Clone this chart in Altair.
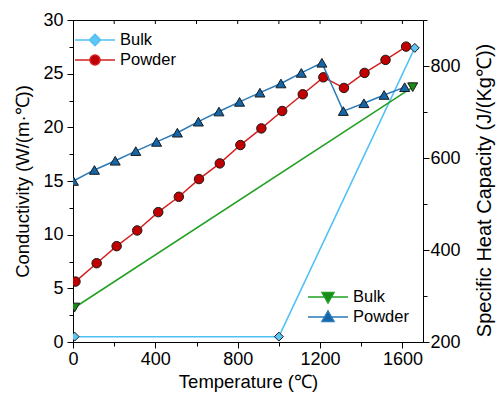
import altair as alt
import pandas as pd

# ---------------- data ----------------
series = ["Bulk", "Powder"]

# thermal conductivity (left axis)
bulk_k_temp = [8, 1000, 1660]
bulk_k = [0.5, 0.5, 27.4]
powder_k_temp = [12, 115, 212, 312, 414, 514, 612, 713, 813, 915, 1016, 1116, 1216, 1316, 1416, 1518, 1618]
powder_k = [5.63, 7.34, 8.93, 10.39, 12.1, 13.53, 15.18, 16.64, 18.35, 19.9, 21.52, 23.08, 24.66, 23.67, 25.07, 26.28, 27.52]

# specific heat capacity (right axis)
bulk_c_temp = [8, 1650]
bulk_c = [275, 754]
powder_c_temp = [2, 104, 205, 305, 406, 507, 609, 709, 809, 908, 1010, 1109, 1209, 1313, 1413, 1511, 1611]
powder_c = [550, 574, 594, 615, 635, 655, 679, 701, 722, 742, 762, 785, 807, 702, 719, 737, 754]

k_ticks = [0, 2.5, 5, 7.5, 10, 12.5, 15, 17.5, 20, 22.5, 25, 27.5, 30]
c_ticks = [200, 300, 400, 500, 600, 700, 800, 900]
t_ticks = [0, 200, 400, 600, 800, 1000, 1200, 1400, 1600]
top_ticks = [200, 400, 600, 800, 1000, 1200, 1400, 1600]

# ---------------- styles ----------------
FONT = "Liberation Sans"
LB_LINE, LB_FILL = "#4fc1f5", "#5cc6f7"
RED_LINE, RED_FILL = "#d42020", "#c00000"
BLUE_LINE, BLUE_FILL = "#2a7ab8", "#1466a8"
GREEN_LINE, GREEN_FILL = "#22a022", "#1a8a1a"
EDGE = "#1a1a1a"


def df(t, v):
    return pd.DataFrame({"temp": t, "value": v})


tick_df = pd.DataFrame({"temp": top_ticks})
legend_df = pd.DataFrame({"series": series})

x_axis = alt.Axis(
    title="Temperature (℃)", values=t_ticks, format="d", labelFlush=False,
    labelExpr="datum.value % 400 === 0 ? datum.label : ''",
    tickSize={"condition": {"test": "datum.value % 400 === 0", "value": 6}, "value": 4},
    labelFontSize=18, titleFontSize=18.5, labelPadding=2, titlePadding=4,
)
x_enc = alt.X("temp:Q", scale=alt.Scale(domain=[0, 1700], nice=False, zero=False), axis=x_axis)

yl_axis = alt.Axis(
    title="Conductivity  (W/(m·℃))", orient="left", values=k_ticks, labelFlush=False,
    labelExpr="datum.value % 5 === 0 ? datum.label : ''",
    tickSize={"condition": {"test": "datum.value % 5 === 0", "value": 6}, "value": 4},
    labelFontSize=18, titleFontSize=18.5, labelPadding=4, titlePadding=10,
)
yr_axis = alt.Axis(
    title="Specific Heat Capacity (J/(Kg℃))", orient="right", values=c_ticks, labelFlush=False,
    labelExpr="datum.value % 200 === 0 ? datum.label : ''",
    tickSize={"condition": {"test": "datum.value % 200 === 0", "value": 6}, "value": 4},
    labelFontSize=18, titleFontSize=20, labelPadding=1, titlePadding=34, titleAngle=270,
    titleY=170, titleAlign="center",
)

# legend glyphs: a line segment with the marker in its middle (unit = half of sqrt(symbolSize))
PATHS = {
    "diamond": "M-2,0H-0.56M0.56,0H2M0,-0.56L0.56,0L0,0.56L-0.56,0Z",
    "circle": "M-2,0H-0.5M0.5,0H2M0.5,0A0.5,0.5,0,1,1,-0.5,0A0.5,0.5,0,1,1,0.5,0Z",
    "down": "M-2,0H-0.34M0.34,0H2M-0.6,-0.44L0.6,-0.44L0,0.6Z",
    "up": "M-2,0H-0.34M0.34,0H2M-0.6,0.44L0.6,0.44L0,-0.6Z",
}

ya = alt.Y("value:Q", scale=alt.Scale(domain=[0, 30], nice=False), axis=yl_axis)
yb = alt.Y("value:Q", scale=alt.Scale(domain=[200, 900], nice=False, zero=False), axis=yr_axis)


def line(d, y, color):
    return alt.Chart(d).mark_line(strokeWidth=1.5, color=color).encode(x=x_enc, y=y)


def pts(d, y, shape, fill, size):
    return alt.Chart(d).mark_point(
        shape=shape, filled=True, fill=fill, stroke=EDGE, strokeWidth=1, opacity=1, size=size, clip=True
    ).encode(x=x_enc, y=y)


def legend_layer(x, y, shapes, fills, strokes):
    leg = alt.Legend(
        title=None, orient="none", legendX=x, legendY=y, padding=0,
        symbolSize=400, symbolStrokeWidth=1.5, symbolOpacity=1,
        labelFont=FONT, labelFontSize=16.5, labelColor="black", labelOffset=14, rowPadding=0,
    )
    return alt.Chart(legend_df).mark_point(filled=True, opacity=1, strokeWidth=1.5).encode(
        shape=alt.Shape("series:N", scale=alt.Scale(domain=series, range=shapes), legend=leg),
        fill=alt.Fill("series:N", scale=alt.Scale(domain=series, range=fills), legend=leg),
        stroke=alt.Stroke("series:N", scale=alt.Scale(domain=series, range=strokes), legend=leg),
    ).transform_filter("false")


bulk_k_df = df(bulk_k_temp, bulk_k)
powder_k_df = df(powder_k_temp, powder_k)
bulk_c_df = df(bulk_c_temp, bulk_c)
powder_c_df = df(powder_c_temp, powder_c)

top_rule = alt.Chart(tick_df).mark_rule(color="black", strokeWidth=1).encode(
    x=x_enc, y=alt.value(0), y2=alt.value(4),
)

group_a = alt.layer(
    line(bulk_k_df, ya, LB_LINE),
    line(powder_k_df, ya, RED_LINE),
    pts(bulk_k_df, ya, "diamond", LB_FILL, 80),
    pts(powder_k_df, ya, "circle", RED_FILL, 90),
    top_rule,
    legend_layer(11, 9, [PATHS["diamond"], PATHS["circle"]], [LB_FILL, RED_FILL], [LB_LINE, RED_LINE]),
)
group_b = alt.layer(
    line(bulk_c_df, yb, GREEN_LINE),
    line(powder_c_df, yb, BLUE_LINE),
    pts(bulk_c_df, yb, "triangle-down", GREEN_FILL, 100),
    pts(powder_c_df, yb, "triangle-up", BLUE_FILL, 100),
    legend_layer(244, 266, [PATHS["down"], PATHS["up"]], [GREEN_FILL, BLUE_FILL], [GREEN_LINE, BLUE_LINE]),
)

chart = alt.layer(group_a, group_b).resolve_scale(
    y="independent", stroke="independent", fill="independent", shape="independent"
).properties(
    width=350, height=322,
    padding={"left": 73, "top": 20, "right": 74, "bottom": 54},
    autosize=alt.AutoSizeParams(type="none"),
    background="white",
).configure_view(
    stroke="black", strokeWidth=1,
).configure_axis(
    grid=False, domainColor="black", tickColor="black", labelColor="black", titleColor="black",
    labelFont=FONT, titleFont=FONT, titleFontWeight="normal", domainWidth=1, tickWidth=1,
)

chart.save("out.html", embed_options={"renderer": "svg", "actions": False})
